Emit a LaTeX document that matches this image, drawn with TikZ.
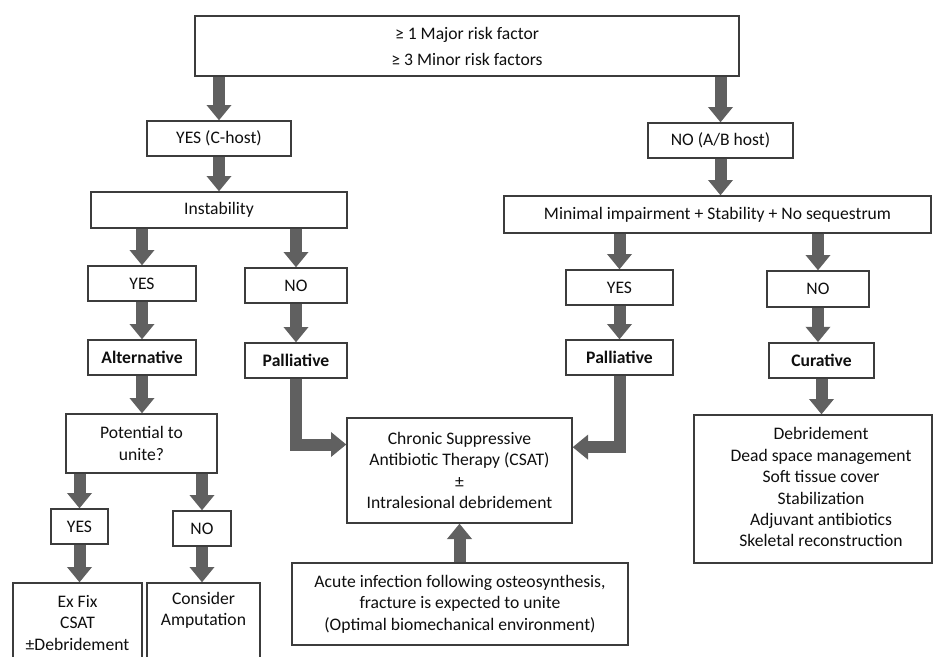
\documentclass[tikz,border=0pt]{standalone}
\usepackage{fontspec}
\setmainfont{Carlito}
\usetikzlibrary{arrows.meta,calc}
\definecolor{arr}{RGB}{96,96,96}
\definecolor{bord}{RGB}{60,60,60}
\definecolor{txt}{RGB}{15,15,15}
\begin{document}
\begin{tikzpicture}[x=0.75pt,y=-0.75pt,
  box/.style={draw=bord,line width=1pt,fill=white,align=center,inner sep=0pt,
    font=\fontsize{13.2}{16.1}\selectfont,text=txt},
  tbox/.style={draw=bord,line width=1pt,fill=white,inner sep=0pt,
    font=\fontsize{13.2}{16.1}\selectfont,text=txt},
  bigarrow/.style={draw=arr,line width=9pt,line join=miter,
    -{Triangle[width=18pt,length=11.5pt]}},
]
\clip (0,0) rectangle (933,657);
\fill[white] (0,0) rectangle (933,657);

% boxes
\node[box,minimum width=408pt,minimum height=45pt] (top) at (467,46)
  {≥ 1 Major risk factor\\[3.4pt]≥ 3 Minor risk factors};
\node[box,minimum width=108pt,minimum height=26.25pt] (yesc) at (219,138.5) {YES (C-host)};
\node[box,minimum width=108.75pt,minimum height=26.25pt] (noab) at (720.5,140.5) {NO (A/B host)};
\node[box,minimum width=192pt,minimum height=27pt] (inst) at (219,210) {Instability};
\node[box,minimum width=320.25pt,minimum height=27.75pt] (minim) at (717.5,214.5)
  {Minimal impairment + Stability + No sequestrum};
\node[box,minimum width=81pt,minimum height=26.25pt] (yesL) at (142,283.5) {YES};
\node[box,minimum width=76.5pt,minimum height=26.25pt] (noL) at (296,285.5) {NO};
\node[box,minimum width=81pt,minimum height=26.25pt] (alt) at (142,357.5) {\bfseries Alternative};
\node[box,minimum width=76.5pt,minimum height=26.25pt] (palL) at (296,360.5) {\bfseries Palliative};
\node[box,minimum width=80.25pt,minimum height=26.25pt] (yesR) at (619.5,287.5) {YES};
\node[box,minimum width=76.5pt,minimum height=27pt] (noR) at (818,289) {NO};
\node[box,minimum width=80.25pt,minimum height=26.25pt] (palR) at (619.5,357.5) {\bfseries Palliative};
\node[box,minimum width=78.75pt,minimum height=26.25pt,line width=1.3pt] (cur) at (821.5,360.5) {\bfseries Curative};
\node[box,minimum width=113.25pt,minimum height=44.25pt] (pot) at (141.5,443.5) {Potential to\\unite?};
\node[box,minimum width=42.75pt,minimum height=26.25pt] (yesP) at (79.5,526.5) {YES};
\node[box,minimum width=43.5pt,minimum height=26.25pt] (noP) at (202,528.5) {NO};
\node[box,minimum width=96.75pt,minimum height=60pt] (exfix) at (77.5,623) {Ex Fix\\CSAT\\±Debridement};
\node[box,minimum width=84.75pt,minimum height=60pt] (amp) at (203.5,623) {Consider\\Amputation\\\strut};
\node[box,minimum width=168.75pt,minimum height=78.75pt] (csat) at (459.5,470.5)
  {Chronic Suppressive\\Antibiotic Therapy (CSAT)\\±\\Intralesional debridement};
\node[box,minimum width=252pt,minimum height=61.5pt] (acute) at (460,604)
  {Acute infection following osteosynthesis,\\fracture is expected to unite\\(Optimal biomechanical environment)};
\node[tbox,minimum width=178.5pt,minimum height=111pt] (debr) at (813,489)
  {\kern12pt\begin{tabular}{@{}c@{}}Debridement\\Dead space management\\Soft tissue cover\\Stabilization\\Adjuvant antibiotics\\Skeletal reconstruction\end{tabular}};

% arrows
\draw[bigarrow] (top.south -| yesc.north) -- (yesc.north);
\draw[bigarrow] (top.south -| noab.north) -- (noab.north);
\draw[bigarrow] (yesc.south) -- (yesc.south |- inst.north);
\draw[bigarrow] (noab.south) -- (noab.south |- minim.north);
\draw[bigarrow] (inst.south -| yesL.north) -- (yesL.north);
\draw[bigarrow] (inst.south -| noL.north) -- (noL.north);
\draw[bigarrow] (minim.south -| yesR.north) -- (yesR.north);
\draw[bigarrow] (minim.south -| noR.north) -- (noR.north);
\draw[bigarrow] (yesL.south) -- (alt.north);
\draw[bigarrow] (noL.south) -- (palL.north);
\draw[bigarrow] (yesR.south) -- (palR.north);
\draw[bigarrow] (noR.south) -- (noR.south |- cur.north);
\draw[bigarrow] (alt.south) -- (alt.south |- pot.north);
\draw[bigarrow] (pot.south -| yesP.north) -- (yesP.north);
\draw[bigarrow] (pot.south -| noP.north) -- (noP.north);
\draw[bigarrow] (yesP.south) -- (yesP.south |- exfix.north);
\draw[bigarrow] (noP.south) -- (noP.south |- amp.north);
\draw[bigarrow] (cur.south) -- (cur.south |- debr.north);
\draw[bigarrow] (palL.south) |- ([yshift=19.5pt]csat.west);
\draw[bigarrow] (palR.south) |- ([yshift=17.5pt]csat.east);
\draw[bigarrow] (acute.north -| csat.south) -- (csat.south);
\end{tikzpicture}
\end{document}
